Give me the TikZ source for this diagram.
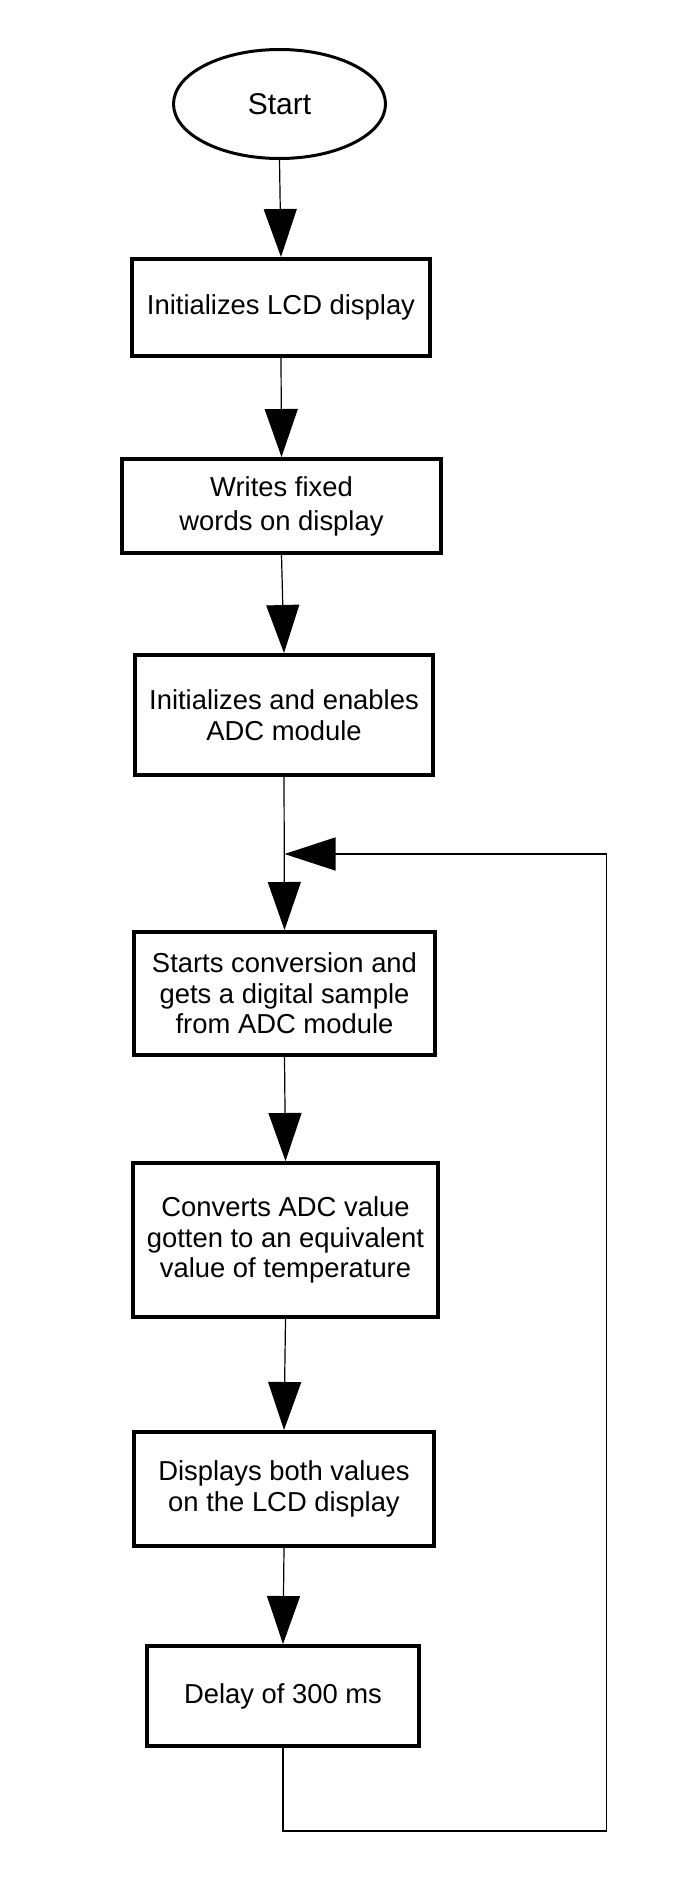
\documentclass[tikz,border=0pt]{standalone}
\usepackage{fontspec}
\setmainfont{Liberation Sans}
\usetikzlibrary{shapes.geometric,arrows.meta,positioning}
\tikzset{
	stepbox/.style={draw, rectangle, line width=2pt, inner sep=0pt, align=center, font=\fontsize{13.7}{15.3}\selectfont},
	startnode/.style={draw, ellipse, line width=1.5pt, inner sep=0pt, font=\fontsize{15}{18}\selectfont},
	flow/.style={line width=0.6pt, -{Triangle[length=24pt,width=16.5pt]}},
	backflow/.style={line width=0.6pt, -{Triangle[length=25.5pt,width=16.5pt]}}
}

\begin{document}
\begin{tikzpicture}[x=0.5pt,y=-0.5pt]
	
	\useasboundingbox (0,0) rectangle (681,1885);
	
	%Debut
	\node[startnode, minimum width=106pt, minimum height=54.5pt] (start) at (279.5,104) {Start};
	
	%Etapes
	\node[stepbox, minimum width=149pt, minimum height=48.5pt] (initlcd) at (281,307.5) {Initializes LCD display};
	\node[stepbox, minimum width=159.5pt, minimum height=47pt, font=\fontsize{13.7}{17}\selectfont] (writefix) at (281.5,506) {Writes fixed\\words on display};
	\node[stepbox, minimum width=149pt, minimum height=60pt] (initadc) at (284,715) {Initializes and enables\\ADC module};
	\node[stepbox, minimum width=150.5pt, minimum height=61.5pt] (startconv) at (284.5,993.5) {Starts conversion and\\gets a digital sample\\from ADC module};
	\node[stepbox, minimum width=152.5pt, minimum height=77pt] (convtemp) at (285.5,1240) {Converts ADC value\\gotten to an equivalent\\value of temperature};
	\node[stepbox, minimum width=150pt, minimum height=57pt] (showval) at (284,1489) {Displays both values\\on the LCD display};
	\node[stepbox, minimum width=136pt, minimum height=50pt] (delay) at (283,1696) {Delay of 300 ms};
	
	%Boucle
	\coordinate (lcorner) at (606.5,1831);
	\coordinate (ljoin) at (284.5,854);
	
	%Fleches
	\draw[flow] (start.south) -- (initlcd.north);
	\draw[flow] (initlcd.south) -- (writefix.north);
	\draw[flow] (writefix.south) -- (initadc.north);
	\draw[flow] (initadc.south) -- (startconv.north);
	\draw[flow] (startconv.south) -- (convtemp.north);
	\draw[flow] (convtemp.south) -- (showval.north);
	\draw[flow] (showval.south) -- (delay.north);
	\draw[backflow] (delay.south) |- (lcorner) |- (ljoin);
	
\end{tikzpicture}
\end{document}
